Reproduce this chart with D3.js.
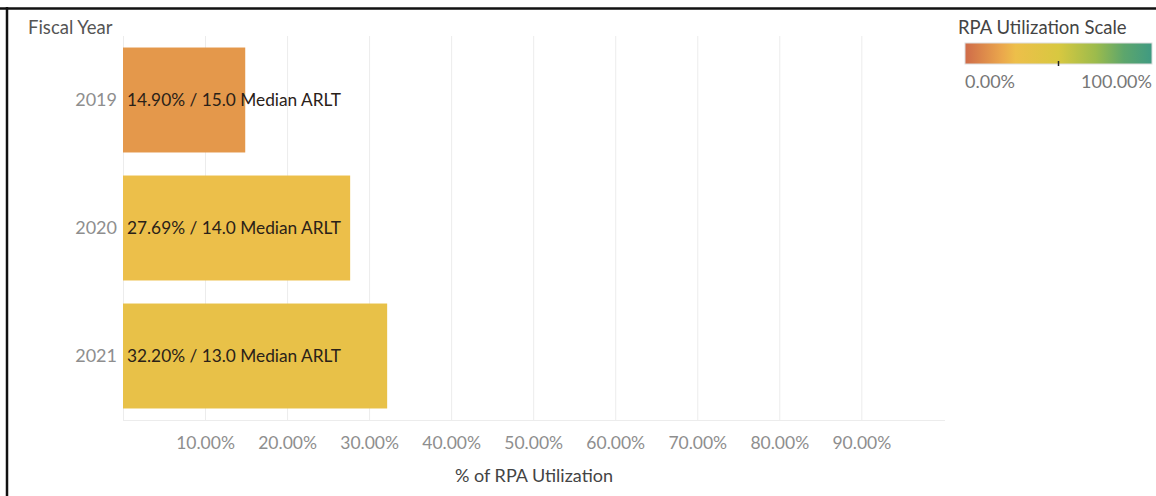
<!DOCTYPE html>
<html>
<head>
<meta charset="utf-8">
<script src="https://cdn.jsdelivr.net/npm/d3@7"></script>
<style>
  body { margin: 0; background: #fff; }
  text { font-family: Lato, "Open Sans", sans-serif; }
</style>
</head>
<body>
<div id="chart-area"></div>
<script>
var years = ['2019', '2020', '2021'];
var utilization = [14.90, 27.69, 32.20];
var medianArlt = [15.0, 14.0, 13.0];
var tickValues = [10, 20, 30, 40, 50, 60, 70, 80, 90];
var scaleStops = [0, 20, 27, 50, 70, 85, 100];
var scaleColors = ['#cf6b49', '#eba84c', '#edbf4a', '#d8c840', '#9cbb4c', '#5da66c', '#3f9a82'];

var W = 1156, H = 496;
var margin = { top: 36, left: 123 };
var width = 822, height = 384;

var svg = d3.select('#chart-area')
    .append('svg')
    .attr('width', W)
    .attr('height', H);

// frame (top + left only)
svg.append('line').attr('x1', 0).attr('x2', W).attr('y1', 8.5).attr('y2', 8.5)
    .attr('stroke', '#111').attr('stroke-width', 2.5);
svg.append('line').attr('x1', 7).attr('x2', 7).attr('y1', 7).attr('y2', H)
    .attr('stroke', '#111').attr('stroke-width', 2.5);

var g = svg.append('g')
    .attr('transform', 'translate(' + margin.left + ',' + margin.top + ')');

var x = d3.scaleLinear().domain([0, 100.2]).range([0, width]);
var y = d3.scaleBand().domain(years).range([0, height]).paddingInner(0.18).paddingOuter(0.09);
var color = d3.scaleLinear().domain(scaleStops).range(scaleColors);

// gridlines
g.selectAll('.grid')
    .data([0].concat(tickValues))
    .enter()
    .append('line')
    .attr('class', 'grid')
    .attr('x1', function (d) { return x(d) + 0.5; })
    .attr('x2', function (d) { return x(d) + 0.5; })
    .attr('y1', 0)
    .attr('y2', height)
    .attr('stroke', '#ececec');
g.append('line')
    .attr('x1', 0).attr('x2', width)
    .attr('y1', height + 0.5).attr('y2', height + 0.5)
    .attr('stroke', '#ececec');

// x axis
var xAxisCall = d3.axisBottom(x)
    .tickValues(tickValues)
    .tickSize(0)
    .tickPadding(17)
    .tickFormat(function (d) { return d.toFixed(2) + '%'; });
var xAxis = g.append('g')
    .attr('transform', 'translate(0,' + height + ')')
    .call(xAxisCall);
xAxis.select('.domain').remove();
xAxis.selectAll('text')
    .attr('fill', '#8e8e8e')
    .style('font-size', '17.5px')
    .style('font-family', 'Lato, sans-serif');

// y axis
var yAxisCall = d3.axisLeft(y).tickSize(0).tickPadding(6);
var yAxis = g.append('g').call(yAxisCall);
yAxis.select('.domain').remove();
yAxis.selectAll('text')
    .attr('fill', '#8e8e8e')
    .style('font-size', '18px')
    .style('font-family', 'Lato, sans-serif');

// bars
var data = years.map(function (d, i) {
    return { year: d, value: utilization[i], arlt: medianArlt[i] };
});

g.selectAll('rect.bar')
    .data(data)
    .enter()
    .append('rect')
    .attr('class', 'bar')
    .attr('x', 0)
    .attr('y', function (d) { return y(d.year); })
    .attr('width', function (d) { return x(d.value); })
    .attr('height', y.bandwidth())
    .attr('fill', function (d) { return color(d.value); });

g.selectAll('text.lbl')
    .data(data)
    .enter()
    .append('text')
    .attr('class', 'lbl')
    .attr('x', 4)
    .attr('y', function (d) { return y(d.year) + y.bandwidth() / 2; })
    .attr('dy', '0.35em')
    .attr('fill', '#2a2118')
    .style('font-size', '17.3px')
    .text(function (d) { return d.value.toFixed(2) + '% / ' + d.arlt.toFixed(1) + ' Median ARLT'; });

// titles
svg.append('text')
    .attr('x', 28).attr('y', 34)
    .attr('fill', '#555')
    .style('font-size', '18.5px')
    .text('Fiscal Year');

svg.append('text')
    .attr('x', margin.left + width / 2).attr('y', 482)
    .attr('text-anchor', 'middle')
    .attr('fill', '#444')
    .style('font-size', '18px')
    .text('% of RPA Utilization');

// legend
var lx = 965, ly = 43, lw = 187, lh = 21;
var grad = svg.append('defs').append('linearGradient').attr('id', 'rpa-grad');
grad.selectAll('stop')
    .data(scaleStops)
    .enter()
    .append('stop')
    .attr('offset', function (d) { return d + '%'; })
    .attr('stop-color', function (d, i) { return scaleColors[i]; });

svg.append('text')
    .attr('x', 958).attr('y', 34)
    .attr('fill', '#444')
    .style('font-size', '18.5px')
    .text('RPA Utilization Scale');

svg.append('rect')
    .attr('x', lx).attr('y', ly)
    .attr('width', lw).attr('height', lh)
    .attr('fill', 'url(#rpa-grad)')
    .attr('stroke', '#ddd');

svg.append('line')
    .attr('x1', lx + lw * 0.5).attr('x2', lx + lw * 0.5)
    .attr('y1', ly + lh - 3).attr('y2', ly + lh + 2)
    .attr('stroke', '#222').attr('stroke-width', 1.5);

svg.append('text')
    .attr('x', lx).attr('y', 88)
    .attr('fill', '#777')
    .style('font-size', '18px')
    .text('0.00%');
svg.append('text')
    .attr('x', lx + lw).attr('y', 88)
    .attr('text-anchor', 'end')
    .attr('fill', '#777')
    .style('font-size', '18px')
    .text('100.00%');
</script>
</body>
</html>
